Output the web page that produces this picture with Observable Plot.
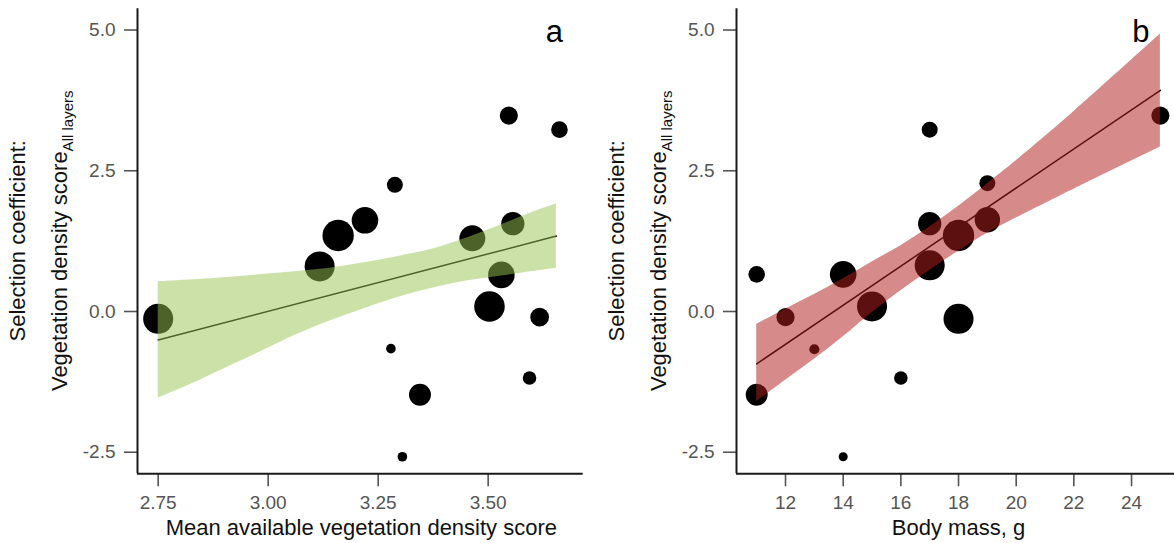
<!DOCTYPE html>
<html><head><meta charset="utf-8">
<script src="https://cdn.jsdelivr.net/npm/d3@7"></script>
<script src="https://cdn.jsdelivr.net/npm/@observablehq/plot@0.6"></script>
<style>
html,body{margin:0;padding:0;background:#fff;}
#wrap{display:flex;width:1174px;height:543px;overflow:hidden;}
</style></head><body><div id="wrap"></div>
<script>
// ---- Panel a: mean available vegetation density score ----
const vegX = [2.75, 3.117, 3.159, 3.220, 3.288, 3.279, 3.345, 3.305, 3.547, 3.662, 3.464, 3.556, 3.530, 3.503, 3.617, 3.594];
const vegY = [-0.13, 0.80, 1.35, 1.62, 2.25, -0.66, -1.48, -2.58, 3.48, 3.23, 1.30, 1.56, 0.65, 0.09, -0.10, -1.18];
const vegN = [88, 88, 96, 69, 25, 9, 47, 9, 32, 27, 66, 53, 69, 91, 34, 18];
const vegBandX = [2.75, 2.84, 2.915, 2.99, 3.065, 3.14, 3.215, 3.29, 3.37, 3.45, 3.53, 3.60, 3.655];
const vegBandHi = [0.53, 0.57, 0.61, 0.66, 0.71, 0.77, 0.86, 0.97, 1.10, 1.30, 1.54, 1.76, 1.91];
const vegBandLo = [-1.54, -1.24, -0.96, -0.69, -0.41, -0.17, 0.04, 0.24, 0.41, 0.54, 0.63, 0.71, 0.77];
const vegFitX = [2.75, 3.655];
const vegFitY = [-0.505, 1.34];
const vegTicks = [2.75, 3.00, 3.25, 3.50];

// ---- Panel b: body mass ----
const massX = [11, 11, 12, 13, 14, 14, 15, 16, 17, 17, 17, 18, 18, 19, 19, 25];
const massY = [0.66, -1.48, -0.10, -0.67, 0.66, -2.58, 0.09, -1.18, 3.23, 1.56, 0.82, 1.35, -0.13, 2.28, 1.63, 3.48];
const massN = [27, 47, 32, 10, 69, 8, 88, 18, 25, 53, 88, 96, 88, 25, 63, 32];
const massBandX = [11, 12, 13, 14, 15, 16, 17, 18, 19, 20, 22, 25];
const massBandHi = [-0.23, 0.04, 0.30, 0.58, 0.88, 1.17, 1.50, 1.87, 2.27, 2.68, 3.55, 4.93];
const massBandLo = [-1.60, -1.22, -0.85, -0.45, -0.02, 0.37, 0.73, 1.07, 1.39, 1.66, 2.17, 2.92];
const massFitX = [11, 25];
const massFitY = [-0.93, 3.93];
const massTicks = [12, 14, 16, 18, 20, 22, 24];

const yTicks = [-2.5, 0.0, 2.5, 5.0];
const yLabel1 = "Selection coefficient:";
const yLabel2 = "Vegetation density score";
const yLabelSub = "All layers";

const FONT = '"Liberation Sans", Arial, Helvetica, sans-serif';
const Y_DOMAIN = [-2.883, 5.377];

function panel(o) {
  const pts = o.px.map((x, i) => ({x, y: o.py[i], n: o.pn[i]}));
  const band = o.bx.map((x, i) => ({x, lo: o.blo[i], hi: o.bhi[i]}));
  const fit = o.fx.map((x, i) => ({x, y: o.fy[i]}));
  const plot = Plot.plot({
    width: o.width, height: 543,
    marginLeft: 137, marginRight: o.marginRight, marginTop: 8.3, marginBottom: 69.7,
    style: {fontFamily: FONT, background: "white"},
    x: {domain: o.xDomain},
    y: {domain: Y_DOMAIN},
    r: {type: "sqrt", domain: [0, 100], range: [0, 16]},
    marks: [
      Plot.dot(pts, {x: "x", y: "y", r: "n", fill: "black", stroke: "none"}),
      Plot.line(fit, {x: "x", y: "y", stroke: "black", strokeWidth: 1.5}),
      Plot.areaY(band, {x: "x", y1: "lo", y2: "hi", fill: o.bandFill, fillOpacity: o.bandOpacity, curve: "catmull-rom"}),
      Plot.axisY({ticks: yTicks, tickFormat: d => d.toFixed(1), tickSize: 13, tickPadding: 9, fontSize: 19, color: "#555", strokeWidth: 1.6, label: null}),
      Plot.axisX({ticks: o.xTicks, tickFormat: o.xFormat, tickSize: 13, tickPadding: 9, fontSize: 19, color: "#555", strokeWidth: 1.6, label: null}),
      Plot.ruleX([o.xDomain[0]], {stroke: "#1a1a1a", strokeWidth: 2}),
      Plot.ruleY([Y_DOMAIN[0]], {stroke: "#1a1a1a", strokeWidth: 2})
    ]
  });
  const svg = d3.select(plot);
  const xr = plot.scale("x").range;
  const yr = plot.scale("y").range;
  const yc = (yr[0] + yr[1]) / 2;
  svg.append("text").attr("x", (xr[0] + xr[1]) / 2 + o.xLabelShift).attr("y", 534.5)
    .attr("text-anchor", "middle").attr("font-size", 22).attr("fill", "#111")
    .attr("font-family", FONT).text(o.xLabel);
  svg.append("text").attr("transform", `translate(25,${yc}) rotate(-90)`)
    .attr("text-anchor", "middle").attr("font-size", 22).attr("fill", "#111")
    .attr("font-family", FONT).text(yLabel1);
  const t2 = svg.append("text").attr("transform", `translate(66.7,${yc}) rotate(-90)`)
    .attr("text-anchor", "middle").attr("font-size", 22).attr("fill", "#111")
    .attr("font-family", FONT);
  t2.append("tspan").text(yLabel2);
  t2.append("tspan").attr("dy", 6).attr("font-size", 15).text(yLabelSub);
  svg.append("text").attr("x", o.letterX).attr("y", 41.5)
    .attr("text-anchor", "end").attr("font-size", 31).attr("fill", "#000")
    .attr("font-family", FONT).text(o.letter);
  return plot;
}

const wrap = document.getElementById("wrap");
wrap.append(panel({
  width: 599, marginRight: 16.3, xDomain: [2.703, 3.716],
  xTicks: vegTicks, xFormat: d => d.toFixed(2),
  px: vegX, py: vegY, pn: vegN,
  bx: vegBandX, blo: vegBandLo, bhi: vegBandHi,
  fx: vegFitX, fy: vegFitY,
  bandFill: "#99c350", bandOpacity: 0.5,
  xLabel: "Mean available vegetation density score", xLabelShift: 1.5,
  letter: "a", letterX: 563
}));
wrap.append(panel({
  width: 575, marginRight: 0, xDomain: [10.30, 25.49],
  xTicks: massTicks, xFormat: d => String(d),
  px: massX, py: massY, pn: massN,
  bx: massBandX, blo: massBandLo, bhi: massBandHi,
  fx: massFitX, fy: massFitY,
  bandFill: "#b01e1e", bandOpacity: 0.52,
  xLabel: "Body mass, g", xLabelShift: 3.5,
  letter: "b", letterX: 550.5
}));
</script>
</body></html>
